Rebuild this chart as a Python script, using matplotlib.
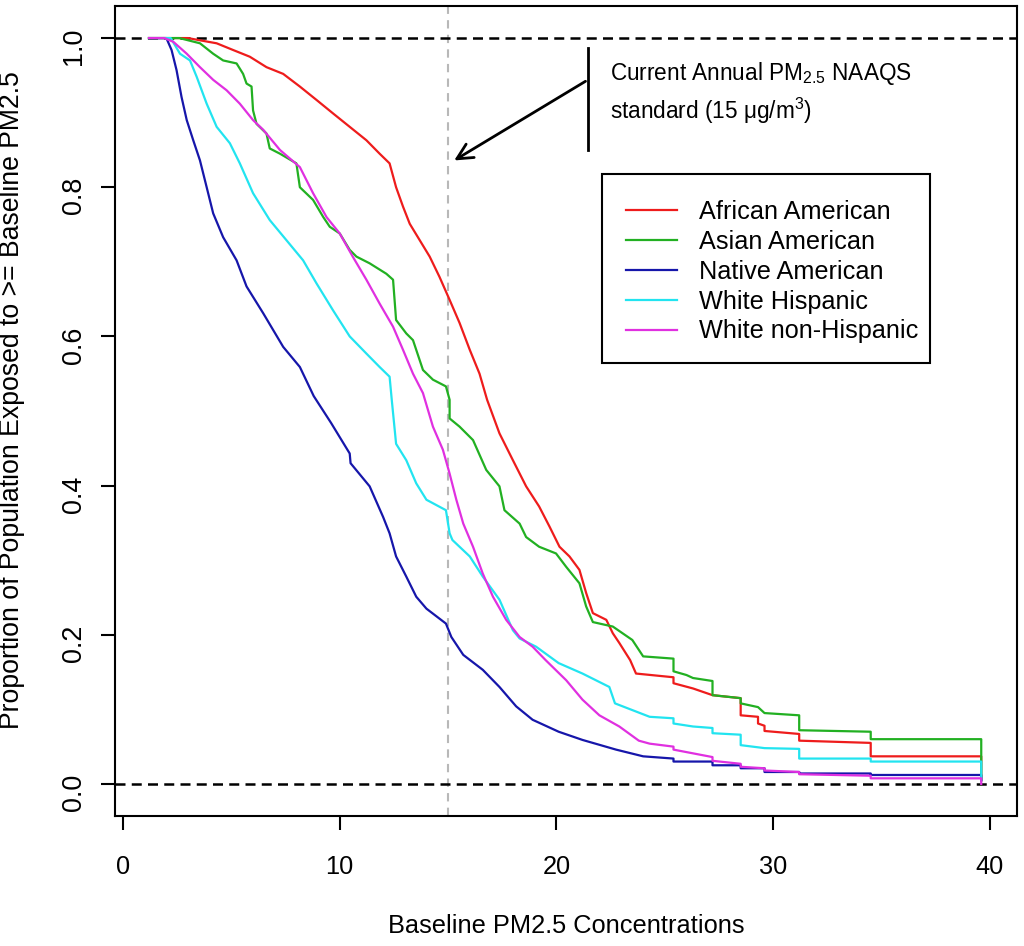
import matplotlib
matplotlib.use('Agg')
import matplotlib.pyplot as plt
from matplotlib.patches import Rectangle

plt.rcParams['font.family'] = ['Liberation Sans', 'DejaVu Sans']
plt.rcParams['mathtext.fontset'] = 'custom'
plt.rcParams['mathtext.rm'] = 'Liberation Sans'
plt.rcParams['mathtext.it'] = 'Liberation Sans:italic'

# (baseline PM2.5, proportion exposed)
african_american = [
    (1.2, 1.0), (3.0, 1.0), (3.55, 0.997), (4.32, 0.993), (5.08, 0.984), (5.85, 0.975),
    (6.62, 0.961), (7.39, 0.952), (8.16, 0.935), (8.93, 0.917), (9.69, 0.899), (10.46, 0.881),
    (11.23, 0.863), (11.84, 0.845), (12.3, 0.832), (12.6, 0.80), (12.92, 0.774), (13.23, 0.751),
    (13.69, 0.729), (14.15, 0.707), (14.6, 0.680), (15.07, 0.649), (15.53, 0.618), (16.0, 0.582),
    (16.45, 0.550), (16.8, 0.515), (17.37, 0.470), (17.99, 0.434), (18.6, 0.399), (19.2, 0.372),
    (19.68, 0.345), (20.14, 0.318), (20.6, 0.305), (21.06, 0.287), (21.37, 0.256), (21.68, 0.229),
    (22.3, 0.220), (22.6, 0.202), (22.9, 0.189), (23.4, 0.166), (23.67, 0.148), (25.4, 0.143),
    (25.4, 0.135), (26.3, 0.128), (27.2, 0.119), (28.5, 0.115), (28.5, 0.092), (29.3, 0.090),
    (29.3, 0.081), (29.6, 0.078), (29.6, 0.071), (31.2, 0.067), (31.2, 0.058), (34.5, 0.055),
    (34.5, 0.037), (39.6, 0.037), (39.6, 0.005),
]
asian_american = [
    (1.2, 1.0), (2.6, 1.0), (3.55, 0.993), (4.16, 0.979), (4.62, 0.970), (5.24, 0.966),
    (5.54, 0.952), (5.7, 0.939), (5.93, 0.935), (6.0, 0.903), (6.16, 0.885), (6.62, 0.872),
    (6.77, 0.852), (7.24, 0.845), (8.0, 0.832), (8.16, 0.80), (8.77, 0.783), (9.24, 0.760),
    (9.54, 0.747), (10.0, 0.738), (10.46, 0.716), (10.77, 0.707), (11.38, 0.698), (12.15, 0.684),
    (12.46, 0.676), (12.6, 0.622), (13.07, 0.604), (13.38, 0.595), (13.84, 0.555), (14.3, 0.542),
    (14.9, 0.533), (15.07, 0.515), (15.07, 0.49), (15.53, 0.479), (16.15, 0.461), (16.76, 0.421),
    (17.37, 0.399), (17.6, 0.367), (18.3, 0.349), (18.6, 0.331), (19.2, 0.318), (19.98, 0.309),
    (20.45, 0.291), (21.06, 0.269), (21.37, 0.238), (21.68, 0.217), (22.6, 0.211), (23.5, 0.193),
    (24.0, 0.171), (25.4, 0.168), (25.4, 0.151), (26.0, 0.146), (26.3, 0.142), (27.2, 0.138),
    (27.2, 0.119), (28.5, 0.115), (28.5, 0.108), (29.3, 0.103), (29.6, 0.095), (31.2, 0.092),
    (31.2, 0.072), (34.5, 0.070), (34.5, 0.060), (39.6, 0.060), (39.6, 0.005),
]
native_american = [
    (1.2, 1.0), (2.0, 1.0), (2.24, 0.984), (2.47, 0.957), (2.7, 0.921), (2.94, 0.89),
    (3.24, 0.863), (3.55, 0.836), (3.86, 0.80), (4.16, 0.765), (4.62, 0.733), (5.24, 0.702),
    (5.7, 0.667), (6.47, 0.631), (7.39, 0.586), (8.16, 0.559), (8.8, 0.52), (9.6, 0.484),
    (10.46, 0.443), (10.5, 0.43), (11.38, 0.399), (12.0, 0.358), (12.3, 0.336), (12.6, 0.305),
    (13.07, 0.278), (13.53, 0.251), (14.0, 0.235), (14.9, 0.215), (15.15, 0.197), (15.7, 0.173),
    (16.6, 0.153), (17.37, 0.130), (18.14, 0.104), (18.9, 0.086), (20.1, 0.070), (21.2, 0.059),
    (22.75, 0.046), (24.0, 0.037), (25.4, 0.034), (25.4, 0.030), (27.2, 0.030), (27.2, 0.025),
    (28.5, 0.025), (28.5, 0.021), (29.6, 0.021), (29.6, 0.016), (31.2, 0.016), (31.2, 0.014),
    (34.5, 0.014), (34.5, 0.012), (39.6, 0.012), (39.6, 0.005),
]
white_hispanic = [
    (1.2, 1.0), (2.2, 1.0), (2.63, 0.979), (3.09, 0.97), (3.4, 0.948), (3.86, 0.912),
    (4.32, 0.881), (4.93, 0.859), (5.39, 0.832), (6.0, 0.792), (6.77, 0.756), (7.54, 0.729),
    (8.31, 0.702), (8.93, 0.671), (9.69, 0.635), (10.46, 0.600), (11.23, 0.577), (11.84, 0.559),
    (12.3, 0.546), (12.4, 0.515), (12.6, 0.456), (13.07, 0.434), (13.53, 0.403), (14.0, 0.381),
    (14.9, 0.367), (15.07, 0.336), (15.2, 0.327), (16.0, 0.305), (16.6, 0.278), (17.37, 0.247),
    (17.99, 0.206), (18.3, 0.195), (19.06, 0.184), (20.1, 0.162), (21.2, 0.148), (22.44, 0.130),
    (22.7, 0.108), (23.5, 0.099), (24.3, 0.090), (25.4, 0.088), (25.4, 0.081), (26.3, 0.077),
    (27.2, 0.075), (27.2, 0.068), (28.5, 0.066), (28.5, 0.052), (29.6, 0.048), (31.2, 0.047),
    (31.2, 0.034), (34.5, 0.034), (34.5, 0.030), (39.6, 0.030), (39.6, 0.005),
]
white_non_hispanic = [
    (1.2, 1.0), (1.9, 1.0), (2.32, 0.995), (2.94, 0.979), (3.55, 0.961), (4.16, 0.944),
    (4.78, 0.930), (5.39, 0.912), (6.0, 0.890), (6.47, 0.877), (7.24, 0.850), (8.16, 0.827),
    (8.77, 0.792), (9.39, 0.760), (10.0, 0.738), (10.6, 0.707), (11.23, 0.676), (11.84, 0.644),
    (12.46, 0.613), (12.92, 0.582), (13.38, 0.550), (13.84, 0.524), (14.3, 0.479), (14.76, 0.448),
    (15.07, 0.416), (15.38, 0.381), (15.7, 0.349), (16.15, 0.318), (16.6, 0.282), (17.07, 0.251),
    (17.68, 0.220), (18.3, 0.197), (18.9, 0.184), (19.5, 0.166), (20.45, 0.139), (21.2, 0.113),
    (21.98, 0.092), (22.9, 0.077), (23.8, 0.058), (24.3, 0.054), (25.4, 0.050), (25.4, 0.046),
    (26.3, 0.041), (27.2, 0.036), (27.2, 0.031), (28.5, 0.027), (28.5, 0.023), (29.6, 0.021),
    (29.6, 0.018), (31.2, 0.016), (31.2, 0.013), (34.5, 0.011), (34.5, 0.0075), (39.6, 0.0075),
    (39.6, 0.0),
]

series = [
    ('African American', african_american, '#ee1c1c'),
    ('Asian American', asian_american, '#22b022'),
    ('Native American', native_american, '#1616aa'),
    ('White Hispanic', white_hispanic, '#22e4f0'),
    ('White non-Hispanic', white_non_hispanic, '#e030e0'),
]

fig = plt.figure(figsize=(10.24, 9.46), dpi=100)
ax = fig.add_axes([115 / 1024, 1 - 816 / 946, 902 / 1024, 810 / 946])

for name, pts, col in series:
    xs = [p[0] for p in pts]
    ys = [p[1] for p in pts]
    ax.plot(xs, ys, color=col, lw=1.6, label=name, zorder=3)

ax.axhline(0, color='black', lw=1.8, ls=(0, (4, 2.5)), zorder=2)
ax.axhline(1, color='black', lw=1.8, ls=(0, (4, 2.5)), zorder=2)
ax.axvline(15, color='#b8b8b8', lw=1.5, ls=(0, (4, 3)), zorder=1)

# annotation for the NAAQS standard
ax.plot([21.45, 21.45], [0.987, 0.85], color='black', lw=2)
ax.annotate('', xy=(15.17, 0.834), xytext=(21.45, 0.944),
            arrowprops=dict(arrowstyle='->', lw=2, color='black', mutation_scale=28))
ax.text(22.47, 0.953, 'Current Annual PM$_{\\mathrm{2.5}}$ NAAQS', fontsize=16.3, va='center')
ax.text(22.47, 0.903, 'standard (15 \u03bcg/m$^{\\mathrm{3}}$)', fontsize=16.3, va='center')

ax.set_xlim(-0.37, 41.25)
ax.set_ylim(-0.043, 1.043)
ax.set_xticks([0, 10, 20, 30, 40])
ax.set_yticks([0, 0.2, 0.4, 0.6, 0.8, 1.0])
ax.set_yticklabels(['0.0', '0.2', '0.4', '0.6', '0.8', '1.0'])
ax.tick_params(direction='out', length=10, width=1.5)
ax.tick_params(axis='x', pad=18, labelsize=18.3)
ax.tick_params(axis='y', pad=10, labelrotation=90, labelsize=19.4)
for s in ax.spines.values():
    s.set_linewidth(1.5)

ax.set_xlabel('Baseline PM2.5 Concentrations', fontsize=18.3)
ax.set_ylabel('Proportion of Population Exposed to >= Baseline PM2.5', fontsize=19.2)
ax.xaxis.set_label_coords(0.5, -0.121)
ax.yaxis.set_label_coords(-0.0998, 0.514)

# legend frame drawn separately (R-style box with tighter right margin)
ax.add_patch(Rectangle((0.540, 0.5593), 0.3635, 0.2333, transform=ax.transAxes,
                       facecolor='white', edgecolor='black', lw=1.5, zorder=4))
leg = ax.legend(loc='upper left', bbox_to_anchor=(0.540, 0.790), borderaxespad=0,
                fontsize=18.2, frameon=False,
                handlelength=2.0, handletextpad=0.87, labelspacing=0.23, borderpad=0.95)
leg.set_zorder(5)

plt.savefig('out.png', dpi=100)
